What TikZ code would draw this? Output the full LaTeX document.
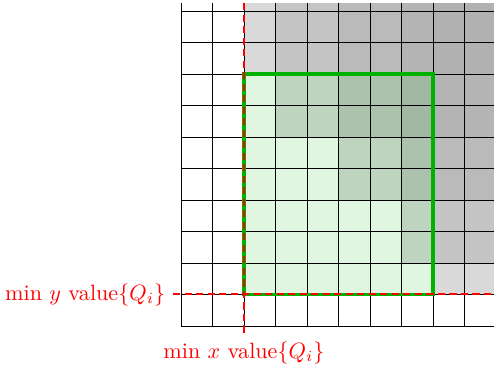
\documentclass[tikz,border=0pt]{standalone}
\definecolor{domgray}{RGB}{174,174,174}
\definecolor{boxgreen}{RGB}{0,178,0}
\tikzset{
  quad/.style={fill=domgray, fill opacity=0.47, draw=none},
  boxfill/.style={fill=boxgreen, fill opacity=0.12, draw=none},
  boxline/.style={draw=boxgreen, line width=1.5pt},
  gridline/.style={draw=black, line width=0.4pt},
  minline/.style={draw=red, line width=0.9pt, dash pattern=on 3.2pt off 2pt},
  minlabel/.style={text=red},
}
\begin{document}
\begin{tikzpicture}[x=0.5cm,y=0.5cm]
\useasboundingbox (-5.746,-1.333) rectangle (9.937,10.349);
% dominance quadrants of the points Q_i
\foreach \a/\b in {2/8,3/6,5/4,7/2,8/1}
  \fill[quad] (\a,\b) rectangle (10.25,10.25);
% bounding box of the points
\fill[boxfill] (2,1) rectangle (8,8);
% grid
\draw[gridline, step=0.5cm] (0,0) grid (10.25,10.25);
\draw[boxline] (2,1) rectangle (8,8);
% min lines
\coordinate (xmintop) at (2,10.25);
\coordinate (xminbot) at (2,-0.25);
\coordinate (yminleft) at (-0.25,1);
\coordinate (yminright) at (10.25,1);
\draw[minline] (xmintop) -- (xminbot);
\draw[minline] (yminleft) -- (yminright);
\node[minlabel, left] (ylab) at (yminleft) {min $y$ value$\{Q_i\}$};
\node[minlabel, below] (xlab) at (xminbot) {min $x$ value$\{Q_i\}$};
\end{tikzpicture}
\end{document}
